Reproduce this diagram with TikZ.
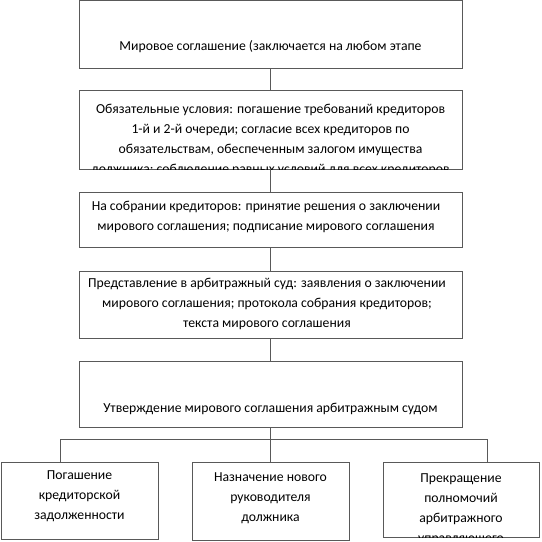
\documentclass[tikz,border=0pt]{standalone}
\usepackage{fontspec}
\setmainfont{Carlito}
\usetikzlibrary{fit}
\begin{document}
\begin{tikzpicture}[x=1pt,y=-1pt,
  box/.style={draw=black!65,line width=0.8pt,inner sep=0pt},
  txt/.style={align=center,inner sep=0pt,font=\fontsize{13.7}{20}\selectfont},
  conn/.style={draw=black!65,line width=0.8pt}]
\useasboundingbox (0,0) rectangle (542,542);
% boxes
\node[box,fit={(79,0.5) (462,68)}] (b1) {};
\node[box,fit={(79,90) (462,169)}] (b2) {};
\node[box,fit={(79,192) (462,247)}] (b3) {};
\node[box,fit={(79,271) (462,338)}] (b4) {};
\node[box,fit={(79,361) (462,427)}] (b5) {};
\node[box,fit={(1,462) (158,539)}] (b6) {};
\node[box,fit={(192,462) (349,540)}] (b7) {};
\node[box,fit={(383,462) (539,537)}] (b8) {};
% texts
\node[txt] (t1) at (270.5,47) {Мировое соглашение (заключается на любом этапе};
\begin{scope}
\clip (b2.north west) rectangle (b2.south east);
\node[txt] (t2) at (270.5,139.5) {Обязательные условия: погашение требований кредиторов\\
1-й и 2-й очереди; согласие всех кредиторов по\\
обязательствам, обеспеченным залогом имущества\\
должника; соблюдение равных условий для всех кредиторов};
\end{scope}
\node[txt] (t3) at (266,217) {На собрании кредиторов: принятие решения о заключении\\
мирового соглашения; подписание мирового соглашения};
\node[txt] (t4) at (267,304) {Представление в арбитражный суд: заявления о заключении\\
мирового соглашения; протокола собрания кредиторов;\\
текста мирового соглашения};
\node[txt] (t5) at (270.5,409) {Утверждение мирового соглашения арбитражным судом};
\node[txt] (t6) at (79.5,496.5) {Погашение\\кредиторской\\задолженности};
\node[txt] (t7) at (270.5,498) {Назначение нового\\руководителя\\должника};
\begin{scope}
\clip (b8.north west) rectangle (b8.south east);
\node[txt] (t8) at (461,509) {Прекращение\\полномочий\\арбитражного\\управляющего};
\end{scope}
% connectors
\draw[conn] (b1.south) -- (b2.north);
\draw[conn] (b2.south) -- (b3.north);
\draw[conn] (b3.south) -- (b4.north);
\draw[conn] (b4.south) -- (b5.north);
\draw[conn] (b5.south) -- (b7.north);
\coordinate (busL) at (60,439);
\coordinate (busR) at (487,439);
\draw[conn] (busL |- b6.north) -- (busL) -- (busR) -- (busR |- b8.north);
\end{tikzpicture}
\end{document}
